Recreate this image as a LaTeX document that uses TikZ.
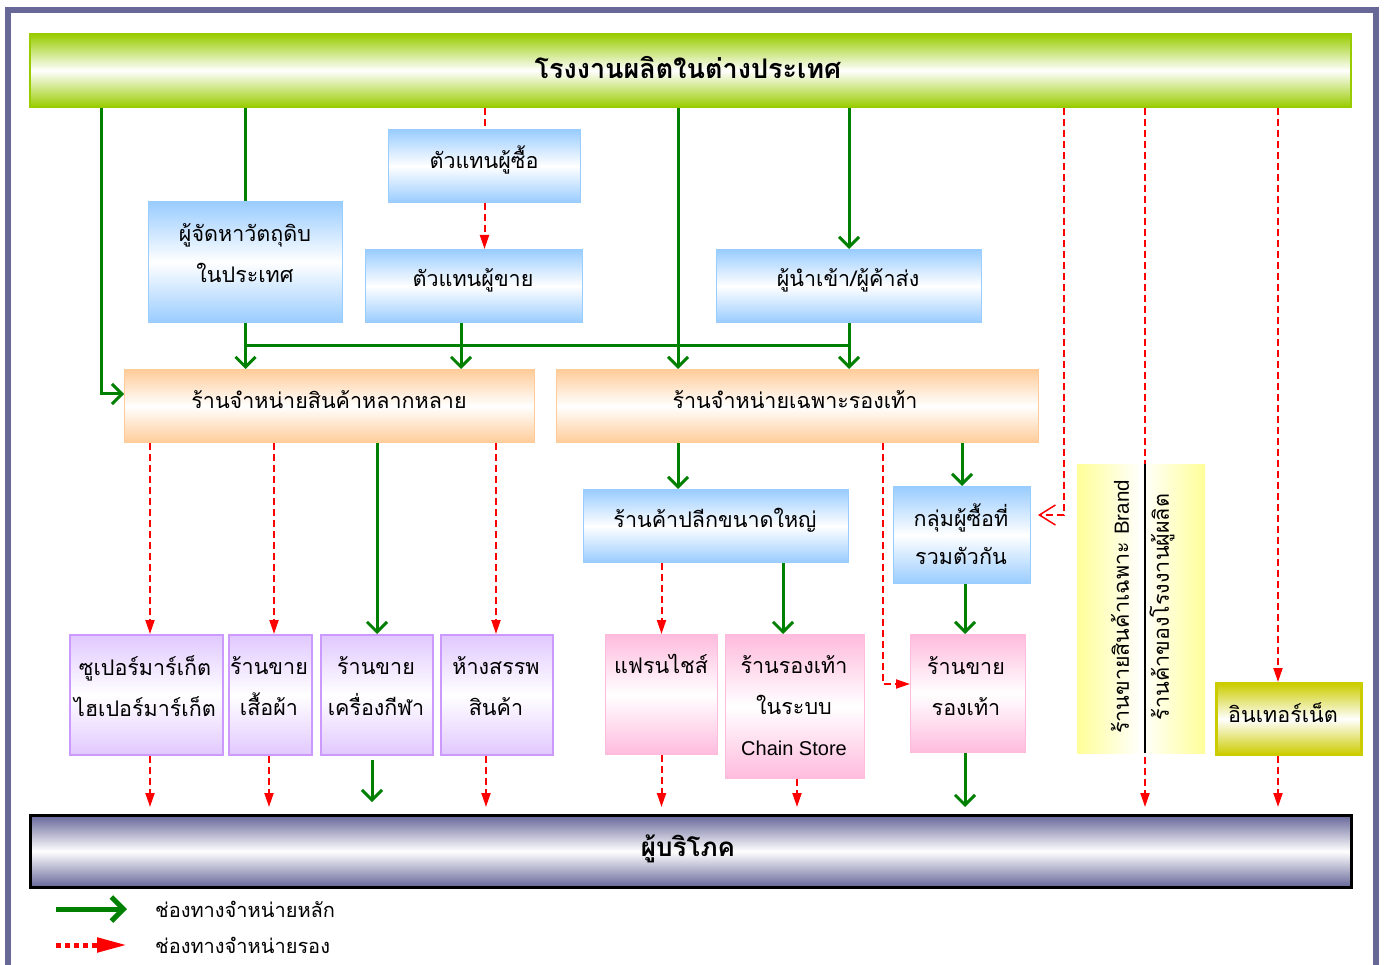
\documentclass[tikz,border=0pt]{standalone}
\usepackage{fontspec}
\newfontfamily\thai[Script=Thai]{Loma}
\newfontfamily\lat{Liberation Sans}
\usetikzlibrary{arrows.meta,backgrounds}
\definecolor{frm}{RGB}{104,104,152}
\definecolor{gbar}{RGB}{153,204,0}
\definecolor{blu}{RGB}{153,204,255}
\definecolor{org}{RGB}{255,204,153}
\definecolor{lav}{RGB}{225,200,255}
\definecolor{lavd}{RGB}{204,153,255}
\definecolor{pnk}{RGB}{255,187,221}
\definecolor{olv}{RGB}{204,204,0}
\definecolor{yel}{RGB}{255,255,153}
\definecolor{cons}{RGB}{102,102,153}
\definecolor{gline}{RGB}{0,128,0}
\begin{document}
\begin{tikzpicture}[x=1pt,y=-1pt,
  th/.style={font=\thai\fontsize{21.5}{41}\selectfont, align=center},
  base/.style={rectangle, inner sep=0pt, anchor=north west},
  topbar/.style={base, draw=gbar, line width=2pt, top color=gbar, bottom color=gbar, middle color=white},
  bluebox/.style={base, draw=blu, line width=1pt, top color=blu, bottom color=blu, middle color=white},
  orgbox/.style={base, draw=org, line width=1pt, top color=org, bottom color=org, middle color=white},
  lavbox/.style={base, draw=lavd, line width=2pt, top color=lav, bottom color=lav, middle color=white},
  pnkbox/.style={base, draw=pnk, line width=1pt, top color=pnk, bottom color=pnk, middle color=white},
  olvbox/.style={base, draw=olv, line width=3pt, top color=olv, bottom color=olv, middle color=white},
  yelbox/.style={base, left color=yel, right color=yel, middle color=white},
  consbox/.style={base, draw=black, line width=2.5pt, top color=cons, bottom color=cons, middle color=white},
  txt/.style={th, inner sep=0pt},
  bigtxt/.style={txt, font=\thai\fontsize{27}{30}\selectfont\bfseries},
  gln/.style={draw=gline, line width=3pt},
  gar/.style={gln, -{Straight Barb[length=10pt,width=20pt]}},
  rln/.style={draw=red, line width=2pt, dash pattern=on 7pt off 4pt},
  rar/.style={rln, -{Triangle[length=14pt,width=9pt]}},
  ropen/.style={rln, -{Straight Barb[length=16pt,width=20pt,line width=1.5pt]}}
]
\useasboundingbox (0,0) rectangle (1384,965);
\draw[frm, line width=6pt] (8,10) rectangle (1376,990);

% boxes
\node[topbar, minimum width=1321pt, minimum height=73pt] (top) at (29,33) {};
\node[bluebox, minimum width=194pt, minimum height=121pt] (sup) at (148,201) {};
\node[bluebox, minimum width=192pt, minimum height=73pt] (buyer) at (388,129) {};
\node[bluebox, minimum width=217pt, minimum height=73pt] (seller) at (365,249) {};
\node[bluebox, minimum width=265pt, minimum height=73pt] (imp) at (716,249) {};
\node[orgbox, minimum width=410pt, minimum height=73pt] (var) at (124,369) {};
\node[orgbox, minimum width=482pt, minimum height=73pt] (shoe) at (556,369) {};
\node[bluebox, minimum width=265pt, minimum height=73pt] (big) at (583,489) {};
\node[bluebox, minimum width=137pt, minimum height=97pt] (grp) at (893,486) {};
\node[lavbox, minimum width=153pt, minimum height=120pt] (p1) at (69,634) {};
\node[lavbox, minimum width=83pt, minimum height=120pt] (p2) at (228,634) {};
\node[lavbox, minimum width=112pt, minimum height=120pt] (p3) at (320,634) {};
\node[lavbox, minimum width=112pt, minimum height=120pt] (p4) at (440,634) {};
\node[pnkbox, minimum width=112pt, minimum height=120pt] (fr) at (605,634) {};
\node[pnkbox, minimum width=139pt, minimum height=144pt] (cs) at (725,634) {};
\node[pnkbox, minimum width=115pt, minimum height=118pt] (ss) at (910,634) {};
\node[yelbox, minimum width=128pt, minimum height=289pt] (yb) at (1077,464) {};
\node[olvbox, minimum width=145pt, minimum height=71pt] (net) at (1215,682) {};
\node[consbox, minimum width=1321pt, minimum height=72pt] (cons) at (29,814) {};

% texts
\node[bigtxt] (ttop) at (688,68) {โรงงานผลิตในต่างประเทศ};
\node[bigtxt, font=\thai\fontsize{26}{30}\selectfont\bfseries] (tcons) at (688,849) {ผู้บริโภค};
\node[txt] (tsup) at (245,253) {ผู้จัดหาวัตถุดิบ\\ในประเทศ};
\node[txt] (tbuyer) at (484,160) {ตัวแทนผู้ซื้อ};
\node[txt] (tseller) at (473,280) {ตัวแทนผู้ขาย};
\node[txt] (timp) at (848,280) {ผู้นำเข้า/ผู้ค้าส่ง};
\node[txt] (tvar) at (329,400) {ร้านจำหน่ายสินค้าหลากหลาย};
\node[txt] (tshoe) at (795,400) {ร้านจำหน่ายเฉพาะรองเท้า};
\node[txt] (tbig) at (715,520) {ร้านค้าปลีกขนาดใหญ่};
\node[txt, font=\thai\fontsize{21.5}{38}\selectfont] (tgrp) at (961,534) {กลุ่มผู้ซื้อที่\\รวมตัวกัน};
\node[txt] (tp1) at (145,686) {ซูเปอร์มาร์เก็ต\\ไฮเปอร์มาร์เก็ต};
\node[txt] (tp2) at (269,686) {ร้านขาย\\เสื้อผ้า};
\node[txt] (tp3) at (376,686) {ร้านขาย\\เครื่องกีฬา};
\node[txt] (tp4) at (496,686) {ห้างสรรพ\\สินค้า};
\node[txt] (tfr) at (661,664) {แฟรนไชส์};
\node[txt] (tcs) at (794,706) {ร้านรองเท้า\\ในระบบ\\{\lat\fontsize{20}{41}\selectfont Chain Store}};
\node[txt] (tss) at (966,686) {ร้านขาย\\รองเท้า};
\node[txt, rotate=90] (ty1) at (1120,607) {ร้านขายสินค้าเฉพาะ {\lat\fontsize{20.5}{24}\selectfont Brand}};
\node[txt, rotate=90] (ty2) at (1162,607) {ร้านค้าของโรงงานผู้ผลิต};
\node[txt] (tnet) at (1283,713) {อินเทอร์เน็ต};

% coordinates
\coordinate (bot) at (0,807);
\coordinate (g1) at (101,394);
\coordinate (g2) at (245,346);
\coordinate (g3) at (461,0);
\coordinate (g4) at (678,0);
\coordinate (g6) at (783,0);
\coordinate (g7) at (965,0);
\coordinate (g8a) at (372,760);
\coordinate (g8b) at (372,802);
\coordinate (r1) at (150,0);
\coordinate (r2a) at (274,0);
\coordinate (r2b) at (269,0);
\coordinate (r4a) at (496,0);
\coordinate (r4b) at (486,0);
\coordinate (r5) at (797,0);
\coordinate (r6) at (883,684);
\coordinate (r7) at (1064,515);
\coordinate (r8) at (1145,0);
\coordinate (r9) at (1278,0);

\begin{pgfonlayer}{background}
\fill[white] (0,0) rectangle (1384,965);
% green
\draw[gar] (top.south -| g1) -- (g1) -- (var.west |- g1);
\draw[gln] (top.south -| sup.north) -- (sup.north);
\draw[gar] (sup.south) -- (var.north -| sup.south);
\draw[gar] (seller.south -| g3) -- (var.north -| g3);
\draw[gln] (g2) -- (imp.south |- g2);
\draw[gar] (top.south -| imp.north) -- (imp.north);
\draw[gar] (imp.south) -- (shoe.north -| imp.south);
\draw[gar] (top.south -| g4) -- (shoe.north -| g4);
\draw[gar] (var.south -| p3.north) -- (p3.north);
\draw[gar] (shoe.south -| g4) -- (big.north -| g4);
\draw[gar] (shoe.south -| grp.north) -- (grp.north);
\draw[gar] (big.south -| g6) -- (cs.north -| g6);
\draw[gar] (grp.south -| g7) -- (ss.north -| g7);
\draw[gar] (g8a) -- (g8b);
\draw[gar] (ss.south -| g7) -- (bot -| g7);
% red
\draw[rln] (top.south -| buyer.north) -- (buyer.north);
\draw[rar] (buyer.south) -- (seller.north -| buyer.south);
\draw[rar] (var.south -| r1) -- (p1.north -| r1);
\draw[rar] (var.south -| r2a) -- (p2.north -| r2a);
\draw[rar] (var.south -| r4a) -- (p4.north -| r4a);
\draw[rar] (p1.south -| r1) -- (bot -| r1);
\draw[rar] (p2.south -| r2b) -- (bot -| r2b);
\draw[rar] (p4.south -| r4b) -- (bot -| r4b);
\draw[rar] (big.south -| fr.north) -- (fr.north);
\draw[rar] (fr.south) -- (bot -| fr.south);
\draw[rar] (cs.south -| r5) -- (bot -| r5);
\draw[rar] (shoe.south -| r6) -- (r6) -- (ss.west |- r6);
\draw[ropen, shorten >=7pt] (top.south -| r7) -- (r7) -- (grp.east |- r7);
\draw[rar] (top.south -| r8) -- (bot -| r8);
\draw[rar] (top.south -| r9) -- (net.north -| r9);
\draw[rar] (net.south -| r9) -- (bot -| r9);
\end{pgfonlayer}

\draw[black, line width=2pt] (yb.north -| r8) -- (yb.south -| r8);

% legend
\coordinate (la1) at (56,909);
\coordinate (la2) at (127,909);
\coordinate (lb1) at (56,945);
\coordinate (lb2) at (127,945);
\draw[draw=gline, line width=5pt, -{Straight Barb[length=12pt,width=24pt]}] (la1) -- (la2);
\draw[draw=red, line width=5pt, dash pattern=on 5pt off 4pt, -{Triangle[length=30pt,width=14pt]}] (lb1) -- (lb2);
\node[txt, anchor=west, font=\thai\fontsize{20}{24}\selectfont] (l1) at (155,909) {ช่องทางจำหน่ายหลัก};
\node[txt, anchor=west, font=\thai\fontsize{20}{24}\selectfont] (l2) at (155,945) {ช่องทางจำหน่ายรอง};
\end{tikzpicture}
\end{document}
